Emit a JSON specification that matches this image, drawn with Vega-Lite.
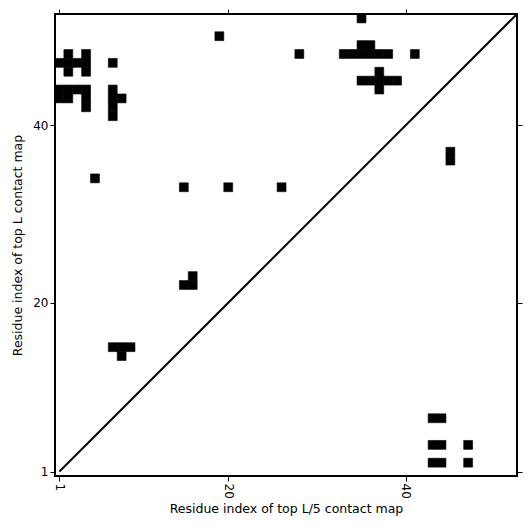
{
  "$schema": "https://vega.github.io/schema/vega-lite/v6.json",
  "width": 462,
  "height": 462,
  "autosize": {"type": "none"},
  "padding": {"left": 55, "top": 14, "right": 14, "bottom": 55},
  "background": "white",
  "config": {
    "view": {"stroke": "black", "strokeWidth": 2},
    "axis": {"grid": false, "domain": false, "tickColor": "black", "tickSize": 5, "tickWidth": 1, "labelColor": "black", "titleColor": "black", "labelFont": "DejaVu Sans", "titleFont": "DejaVu Sans", "labelFontSize": 12, "titleFontSize": 12.5, "titleFontWeight": "normal"}
  },
  "datasets": {
    "cells": [
      {"x": 2, "y": 48}, {"x": 4, "y": 48},
      {"x": 1, "y": 47}, {"x": 2, "y": 47}, {"x": 3, "y": 47}, {"x": 4, "y": 47}, {"x": 7, "y": 47},
      {"x": 2, "y": 46}, {"x": 4, "y": 46},
      {"x": 1, "y": 44}, {"x": 2, "y": 44}, {"x": 3, "y": 44}, {"x": 4, "y": 44}, {"x": 7, "y": 44},
      {"x": 1, "y": 43}, {"x": 2, "y": 43}, {"x": 4, "y": 43}, {"x": 7, "y": 43}, {"x": 8, "y": 43},
      {"x": 4, "y": 42}, {"x": 7, "y": 42},
      {"x": 7, "y": 41},
      {"x": 19, "y": 50},
      {"x": 35, "y": 52},
      {"x": 35, "y": 49}, {"x": 36, "y": 49},
      {"x": 28, "y": 48}, {"x": 33, "y": 48}, {"x": 34, "y": 48}, {"x": 35, "y": 48}, {"x": 36, "y": 48}, {"x": 37, "y": 48}, {"x": 38, "y": 48}, {"x": 41, "y": 48},
      {"x": 37, "y": 46},
      {"x": 35, "y": 45}, {"x": 36, "y": 45}, {"x": 37, "y": 45}, {"x": 38, "y": 45}, {"x": 39, "y": 45},
      {"x": 37, "y": 44},
      {"x": 5, "y": 34},
      {"x": 15, "y": 33}, {"x": 20, "y": 33}, {"x": 26, "y": 33},
      {"x": 16, "y": 23},
      {"x": 15, "y": 22}, {"x": 16, "y": 22},
      {"x": 7, "y": 15}, {"x": 8, "y": 15}, {"x": 9, "y": 15},
      {"x": 8, "y": 14},
      {"x": 45, "y": 37}, {"x": 45, "y": 36},
      {"x": 43, "y": 7}, {"x": 44, "y": 7},
      {"x": 43, "y": 4}, {"x": 44, "y": 4}, {"x": 47, "y": 4},
      {"x": 43, "y": 2}, {"x": 44, "y": 2}, {"x": 47, "y": 2}
    ],
    "diag": [{"x": 1, "y": 1}, {"x": 52.5, "y": 52.5}]
  },
  "layer": [
    {
      "data": {"name": "cells"},
      "transform": [
        {"calculate": "datum.x - 0.5", "as": "x0"},
        {"calculate": "datum.x + 0.5", "as": "x1"},
        {"calculate": "datum.y - 0.5", "as": "y0"},
        {"calculate": "datum.y + 0.5", "as": "y1"}
      ],
      "mark": {"type": "rect", "color": "black", "fill": "black", "stroke": "black", "strokeWidth": 0.6},
      "encoding": {
        "x": {"field": "x0", "type": "quantitative", "scale": {"domain": [0.5, 52.5], "nice": false, "zero": false},
              "axis": {"orient": "bottom", "values": [1, 20, 40], "labelAngle": 90, "labelAlign": "left", "labelBaseline": "middle", "title": "Residue index of top L/5 contact map", "titlePadding": 4}},
        "x2": {"field": "x1"},
        "y": {"field": "y0", "type": "quantitative", "scale": {"domain": [0.5, 52.5], "nice": false, "zero": false},
              "axis": {"orient": "left", "values": [1, 20, 40], "title": "Residue index of top L contact map", "titlePadding": 8}},
        "y2": {"field": "y1"}
      }
    },
    {
      "data": {"name": "diag"},
      "mark": {"type": "line", "color": "black", "strokeWidth": 2, "clip": true},
      "encoding": {
        "x": {"field": "x", "type": "quantitative", "axis": {"orient": "top", "values": [1, 20, 40], "labels": false, "title": null}},
        "y": {"field": "y", "type": "quantitative", "axis": {"orient": "right", "values": [1, 20, 40], "labels": false, "title": null}}
      }
    }
  ],
  "resolve": {"axis": {"x": "independent", "y": "independent"}}
}
